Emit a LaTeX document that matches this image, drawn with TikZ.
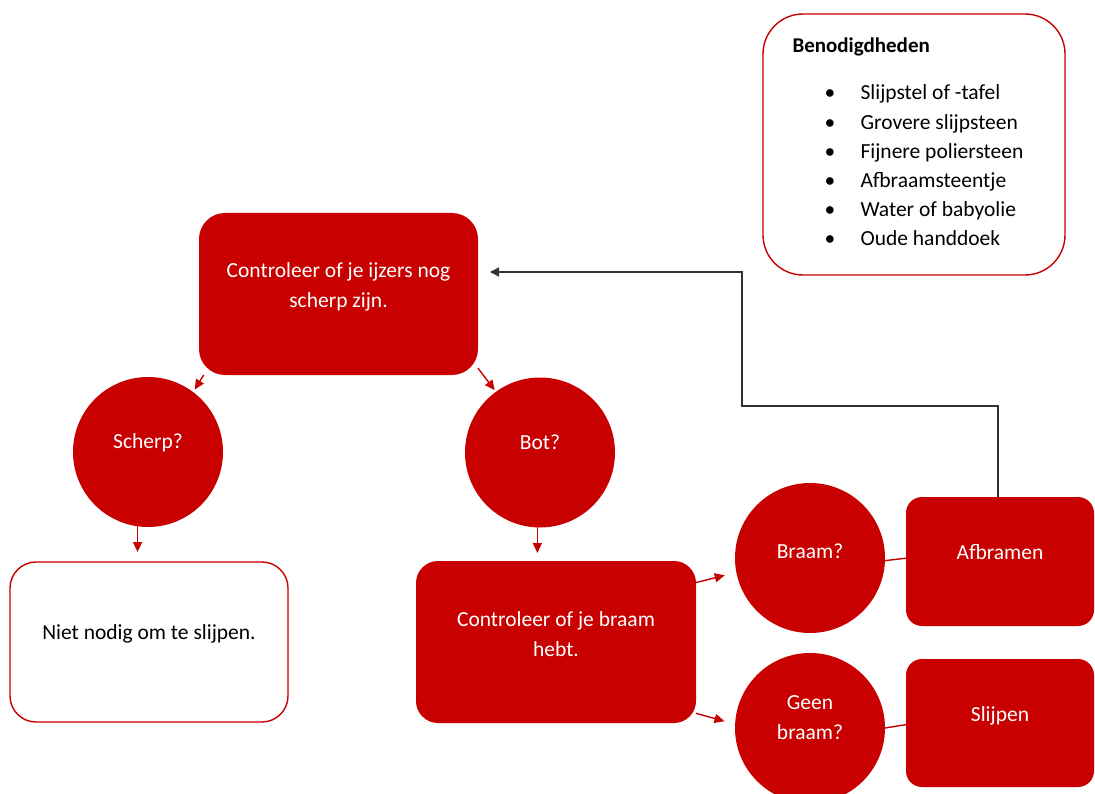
\documentclass[tikz,border=0pt]{standalone}
\usepackage{fontspec}
\setmainfont{Carlito}
\usetikzlibrary{arrows.meta}
\definecolor{slijprood}{RGB}{200,0,0}

\tikzset{
  vorm/.style={rectangle, rounded corners=22pt, inner sep=0pt, outer sep=0pt},
  roodvak/.style={vorm, fill=slijprood},
  openvak/.style={vorm, draw=slijprood, line width=1.4pt, fill=white},
  vraag/.style={circle, fill=slijprood, minimum size=150pt, inner sep=0pt, outer sep=0pt},
  wittekst/.style={text=white, align=center},
  zwartekst/.style={text=black, align=center},
  lijstregel/.style={text height=1.6ex, text depth=.4ex},
  rodepijl/.style={draw=slijprood, line width=1.4pt, -{Triangle[length=10pt,width=9pt]}},
  rodelijn/.style={draw=slijprood, line width=1.4pt},
  terugpijl/.style={draw=black!80, line width=1.5pt, -{Triangle[length=9pt,width=9pt]}}
}

\begin{document}
\begin{tikzpicture}[x=1pt, y=-1pt, font=\fontsize{21.5}{30}\selectfont]
\useasboundingbox (0,0) rectangle (1095,794);

% benodigdheden
\node[openvak, rounded corners=40pt, minimum width=302pt, minimum height=261pt] (nodig) at (914,144.5) {};
\node[anchor=west, font=\fontsize{21}{30}\selectfont\bfseries] (nodigkop) at (789,47) {Benodigdheden};
\foreach \stuk [count=\i] in {Slijpstel of -tafel, Grovere slijpsteen, Fijnere poliersteen,
    Afbraamsteentje, Water of babyolie, Oude handdoek}{
  \node[lijstregel] (stip\i) at (830,{97+(\i-1)*29.2}) {\textbullet};
  \node[lijstregel, anchor=west] (stuk\i) at (857,{97+(\i-1)*29.2}) {\stuk};
}

% vakken en vragen
\node[roodvak, rounded corners=26pt, minimum width=279pt, minimum height=162pt] (ctrl) at (338.5,294) {};
\node[wittekst] (ctrltxt) at ([yshift=7pt]ctrl.center) {Controleer of je ijzers nog\\scherp zijn.};

\node[vraag] (scherp) at (148,452) {};
\node[wittekst] (scherptxt) at ([yshift=9pt]scherp.center) {Scherp?};
\node[vraag] (bot) at (540,452.5) {};
\node[wittekst] (bottxt) at ([yshift=10pt]bot.center) {Bot?};

\node[openvak, rounded corners=26pt, minimum width=278pt, minimum height=160pt] (niet) at (149,642) {};
\node[zwartekst] (niettxt) at ([yshift=8pt]niet.center) {Niet nodig om te slijpen.};

\node[roodvak, minimum width=280pt, minimum height=162pt] (braam) at (556,642) {};
\node[wittekst] (braamtxt) at ([yshift=8pt]braam.center) {Controleer of je braam\\hebt.};

\node[vraag] (braamq) at (810,558) {};
\node[wittekst] (braamqtxt) at ([yshift=7pt]braamq.center) {Braam?};
\node[vraag] (geenq) at (810,728) {};
\node[wittekst] (geenqtxt) at ([yshift=10pt]geenq.center) {Geen\\braam?};

\node[roodvak, rounded corners=16pt, minimum width=188pt, minimum height=129pt] (afbr) at (1000,561.5) {};
\node[wittekst] (afbrtxt) at ([yshift=9pt]afbr.center) {Afbramen};
\node[roodvak, rounded corners=16pt, minimum width=188pt, minimum height=128pt] (slijp) at (1000,723) {};
\node[wittekst] (slijptxt) at ([yshift=7pt]slijp.center) {Slijpen};

% verbindingen
\draw[rodepijl, shorten >=3pt] (ctrl.211) -- (scherp.53);
\draw[rodepijl, shorten >=2pt] (ctrl.332) -- (bot.126);
\draw[rodepijl, shorten >=10pt] (scherp.262) -- (scherp.262 |- niet.north);
\draw[rodepijl, shorten >=8pt] (bot.268) -- (bot.268 |- braam.north);
\draw[rodepijl, shorten >=12pt] (braam.23) -- (braamq.191);
\draw[rodepijl, shorten >=11pt] (braam.333) -- (geenq.177);
\draw[rodelijn] (braamq.358) -- (afbr.178);
\draw[rodelijn] (geenq.east) -- (slijp.181);

\coordinate (knik) at (742,406);
\draw[terugpijl, shorten >=12pt] ([xshift=-2pt]afbr.north) |- (knik) |- ([yshift=22pt]ctrl.east);
\end{tikzpicture}
\end{document}
